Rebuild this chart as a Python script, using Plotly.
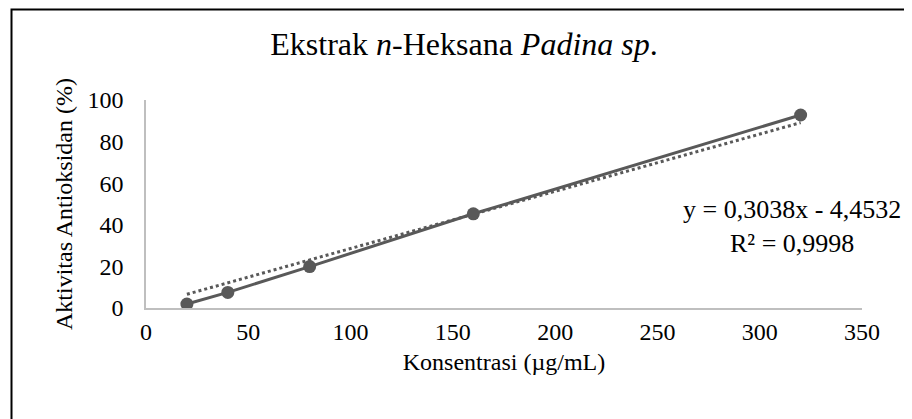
import plotly.graph_objects as go

# data
konsentrasi = [20, 40, 80, 160, 320]
aktivitas = [1.9, 7.5, 19.9, 45.3, 92.8]

# dotted linear trendline as drawn (end points)
trend_x = [20, 320]
trend_y = [6.6, 89.1]

equation_text = "y = 0,3038x - 4,4532<br>R² = 0,9998"

# the page body adds an 8px margin, so positions below are shifted by 8px
W, H = 912, 419
L, R, T, B = 138, 58, 92, 119
pw, ph = W - L - R, H - T - B

font_family = "Liberation Serif, Times New Roman, serif"
grey = "#595959"
axis_grey = "#BFBFBF"

fig = go.Figure()

fig.add_trace(go.Scatter(
    x=trend_x,
    y=trend_y,
    mode='lines',
    line=dict(color=grey, width=3, dash='dot'),
    showlegend=False,
    hoverinfo='skip'
))

fig.add_trace(go.Scatter(
    x=konsentrasi,
    y=aktivitas,
    mode='lines+markers',
    line=dict(color=grey, width=3),
    marker=dict(color=grey, size=13),
    showlegend=False
))

fig.update_layout(
    width=W,
    height=H,
    margin=dict(l=L, r=R, t=T, b=B),
    paper_bgcolor='white',
    plot_bgcolor='white',
    font=dict(family=font_family, size=24, color='black'),
    title=dict(
        text="Ekstrak <i>n</i>-Heksana <i>Padina sp</i>.",
        x=456 / W,
        xanchor='center',
        y=1 - 36 / H,
        yanchor='middle',
        font=dict(family=font_family, size=32, color='black')
    ),
    xaxis=dict(
        range=[0, 350],
        tickvals=[0, 50, 100, 150, 200, 250, 300, 350],
        showgrid=False,
        zeroline=False,
        showline=True,
        linecolor=axis_grey,
        linewidth=1.5,
        ticks='',
        ticklabelstandoff=1,
        title=dict(text="Konsentrasi (µg/mL)", standoff=10,
                   font=dict(family=font_family, size=24))
    ),
    yaxis=dict(
        range=[0, 100],
        tickvals=[0, 20, 40, 60, 80, 100],
        showgrid=False,
        zeroline=False,
        showline=True,
        linecolor=axis_grey,
        linewidth=1.5,
        ticks='',
        ticklabelstandoff=16,
        title=dict(text="Aktivitas Antioksidan (%)", standoff=8,
                   font=dict(family=font_family, size=24))
    ),
    annotations=[dict(
        text=equation_text,
        xref='paper', yref='paper',
        x=(784 - L) / pw,
        y=(H - B - 218) / ph,
        xanchor='center', yanchor='middle',
        align='center',
        showarrow=False,
        font=dict(family=font_family, size=26, color='black')
    )],
    shapes=[dict(
        type='rect',
        xref='paper', yref='paper',
        x0=(3.5 - L) / pw, x1=(W + 5 - L) / pw,
        y0=(H - B - (H + 5)) / ph, y1=(H - B - 1.5) / ph,
        line=dict(color='black', width=2),
        fillcolor='rgba(0,0,0,0)',
        layer='below'
    )]
)

fig.write_html("out.html")
